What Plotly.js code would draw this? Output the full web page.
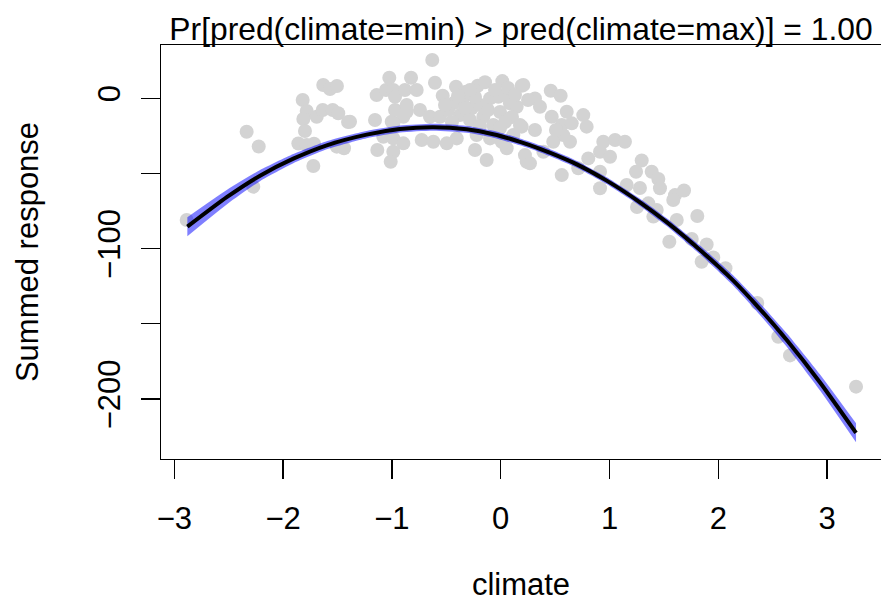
<!DOCTYPE html>
<html>
<head>
<meta charset="utf-8">
<script src="https://cdn.plot.ly/plotly-3.0.1.min.js"></script>
<style>html,body{margin:0;padding:0;background:#fff;overflow:hidden;}#chart{width:881px;height:608px;}</style>
</head>
<body>
<div id="chart"></div>
<script>
// Scatter points (climate, summed response)
const climate = [
 -2.886,-2.335,-2.224,-2.274,-1.820,-1.631,-1.569,-1.505,-1.783,-1.814,-1.691,-1.636,-1.544,-1.493,-1.403,-1.799,-1.860,-1.783,-1.716,-1.722,-1.507,-1.440,
 -1.385,-1.155,-1.140,-1.054,-1.024,-0.987,-0.971,-0.880,-0.824,-0.772,-0.971,-0.864,-0.864,-0.742,-0.650,-0.558,-1.002,-0.895,-0.987,-0.629,-0.604,-0.533,-1.079,-0.987,-0.895,-0.726,-0.619,-0.496,-1.134,-0.987,-1.011,
 -0.411,-0.211,-0.144,0.015,0.193,-0.436,-0.344,-0.267,-0.190,-0.098,-0.022,0.085,0.147,-0.374,-0.282,-0.160,-0.068,0.193,0.116,-0.404,-0.221,-0.098,0.009,0.055,-0.236,-0.129,0.239,
 -0.328,-0.052,0.040,-0.236,-0.117,-0.006,0.104,-0.328,-0.448,-0.190,0.040,-0.484,
 -0.282,0.067,0.131,-0.393,-0.512,-0.006,
 0.208,0.460,0.551,0.315,0.361,0.177,0.315,0.469,0.607,0.759,0.561,0.653,0.790,0.575,0.637,0.483,0.223,0.269,0.392,0.943,1.051,1.142,0.913,1.005,0.561,0.713,0.805,0.913,0.913,
 1.296,1.244,1.388,1.449,1.464,1.158,1.280,1.602,1.685,1.253,1.434,1.357,1.403,1.618,1.807,1.550,1.756,1.893,1.954,1.847,2.066,2.358,2.551,2.659,3.266,1.586,0.508,0.251
];
const response = [
 -81.0,-22.3,-32.1,-58.8,-1.2,8.8,6.1,8.1,-8.5,-13.8,-12.3,-7.8,-7.8,-10.0,-15.8,-21.8,-30.1,-31.1,-30.3,-45.1,-32.2,-33.3,
 -15.6,-14.5,2.1,5.5,13.6,5.5,1.0,5.5,13.6,5.5,-7.8,-4.5,-9.0,-7.8,-12.3,-12.3,-15.6,-12.3,-16.7,25.4,10.3,1.7,-25.6,-26.7,-30.0,-27.8,-28.9,-30.0,-34.4,-35.6,-42.2,
 7.6,8.3,10.6,11.4,8.3,-3.4,-0.1,-6.7,-4.5,-0.1,1.0,-3.4,-5.7,-11.2,-14.5,-12.3,-17.8,-18.9,-24.5,-26.7,-24.5,-26.7,-28.9,-33.3,-34.4,-41.1,-42.2,
 4.1,5.5,2.1,0.8,-7.8,-9.2,-12.5,-6.5,-15.8,-18.5,-15.8,-7.8,
 5.5,6.8,2.1,1.5,-4.5,-19.8,
 8.8,5.0,1.7,-0.1,-5.7,-17.8,-21.1,-12.3,-9.0,-11.2,-17.8,-16.7,-18.9,-24.5,-28.9,-28.9,-37.8,-43.3,-35.6,-28.9,-27.8,-28.9,-35.6,-38.9,-51.1,-46.6,-40.0,-48.9,-59.9,
 -41.4,-48.9,-48.9,-53.7,-59.9,-57.7,-59.7,-64.4,-61.4,-72.3,-74.3,-69.9,-78.7,-81.0,-78.3,-95.4,-93.6,-97.3,-105.9,-108.7,-113.1,-136.2,-158.6,-171.0,-191.8,-67.7,-21.1,-1.2
];

// Fitted curve and its band
const curveX  = [-2.880,-2.518,-2.212,-1.906,-1.599,-1.232,-0.926,-0.619,-0.313,-0.068,0.177,0.361,0.667,0.974,1.280,1.526,1.832,2.138,2.383,2.629,2.935,3.266];
const curveY  = [-85.4,-65.8,-51.5,-40.2,-31.3,-24.2,-20.5,-19.3,-20.7,-23.9,-29.0,-33.6,-42.8,-54.8,-69.2,-82.4,-100.9,-121.3,-140.2,-160.8,-189.0,-222.5];
const curveLo = [-91.7,-70.6,-55.2,-43.3,-34.0,-26.6,-22.8,-21.6,-23.0,-26.2,-31.3,-35.9,-45.1,-57.1,-71.6,-85.0,-103.8,-124.7,-144.1,-165.3,-194.3,-228.8];
const curveHi = [-79.1,-61.0,-47.8,-37.1,-28.6,-21.8,-18.2,-17.0,-18.4,-21.6,-26.7,-31.3,-40.5,-52.5,-66.8,-79.8,-98.0,-117.9,-136.3,-156.3,-183.7,-216.2];

// Axis ticks
const xTickVals = [-3,-2,-1,0,1,2,3];
const xTickText = ["\u22123","\u22122","\u22121","0","1","2","3"];
const yTickVals = [0,-50,-100,-150,-200];
const yTickText = ["0","","\u2212100","","\u2212200"];

const titleText = "Pr[pred(climate=min) > pred(climate=max)] = 1.00";
const FONT = "Liberation Sans, Arial, Helvetica, sans-serif";

const traces = [
  {x: climate, y: response, type: "scatter", mode: "markers",
   marker: {size: 14, color: "#D3D3D3", line: {width: 0}}, hoverinfo: "skip"},
  {x: curveX, y: curveLo, type: "scatter", mode: "lines",
   line: {width: 0, color: "rgba(0,0,255,0)", shape: "spline", smoothing: 0.6}, hoverinfo: "skip"},
  {x: curveX, y: curveHi, type: "scatter", mode: "lines", fill: "tonexty",
   fillcolor: "rgba(0,0,255,0.5)",
   line: {width: 0, color: "rgba(0,0,255,0)", shape: "spline", smoothing: 0.6}, hoverinfo: "skip"},
  {x: curveX, y: curveY, type: "scatter", mode: "lines",
   line: {width: 4, color: "#000000", shape: "spline", smoothing: 0.6}, hoverinfo: "skip"}
];

const layout = {
  width: 881, height: 608,
  margin: {l: 161, r: 0, t: 45, b: 149, pad: 0},
  paper_bgcolor: "#ffffff", plot_bgcolor: "#ffffff",
  showlegend: false,
  font: {family: FONT, size: 31, color: "#000000"},
  title: {text: titleText, font: {family: FONT, size: 31.8, color: "#000"},
          x: 0.5, xref: "paper", xanchor: "center", y: 0.935, yref: "container", yanchor: "bottom"},
  xaxis: {
    range: [-3.1222, 3.4954], autorange: false,
    tickmode: "array", tickvals: xTickVals, ticktext: xTickText,
    ticks: "outside", ticklen: 19, tickwidth: 1.3, tickcolor: "#000",
    showline: true, linecolor: "#000", linewidth: 1.3, mirror: true,
    showgrid: false, zeroline: false,
    tickfont: {family: FONT, size: 31, color: "#000"},
    ticklabelstandoff: 12,
    title: {text: "climate", font: {family: FONT, size: 31, color: "#000"}, standoff: 38}
  },
  yaxis: {
    range: [-239.9, 35.4], autorange: false,
    tickmode: "array", tickvals: yTickVals, ticktext: yTickText,
    ticks: "outside", ticklen: 19, tickwidth: 1.3, tickcolor: "#000",
    tickangle: -90,
    showline: true, linecolor: "#000", linewidth: 1.3, mirror: false,
    showgrid: false, zeroline: false,
    tickfont: {family: FONT, size: 31, color: "#000"},
    ticklabelstandoff: 8,
    title: {text: "Summed response", font: {family: FONT, size: 31, color: "#000"}, standoff: 44}
  }
};

Plotly.newPlot("chart", traces, layout, {displayModeBar: false, staticPlot: true});
</script>
</body>
</html>
